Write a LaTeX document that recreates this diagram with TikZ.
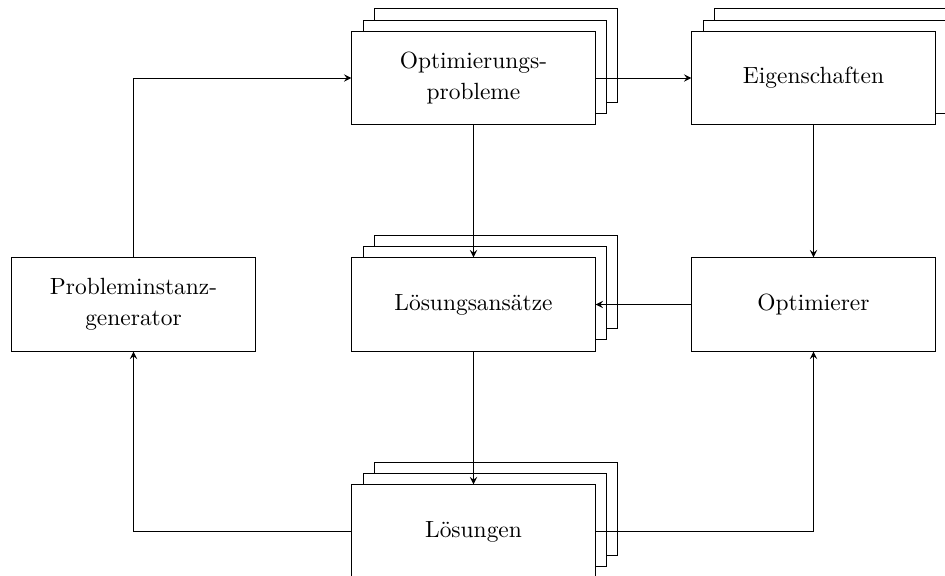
\documentclass[tikz,border=0pt]{standalone}
\usetikzlibrary{shadows}

\newlength\Versatz
\setlength\Versatz{0.17cm}

\tikzset{
  kasten/.style={draw, fill=white, minimum width=3.65cm, minimum height=1.4cm, align=center},
  stapel/.style={kasten, double copy shadow={shadow xshift=\Versatz, shadow yshift=\Versatz}}
}

\begin{document}
\begin{tikzpicture}[>=stealth]
            \useasboundingbox (0,0) rectangle (14.175,-8.64);
            \node[stapel] (opt)  at (7.1025,-1.17)   {Optimierungs-\\[1pt]probleme};
            \node[stapel] (eig)  at (12.2025,-1.17)  {Eigenschaften};
            \node[kasten] (gen)  at (2.0025,-4.5675) {Probleminstanz-\\[1pt]generator};
            \node[stapel] (ans)  at (7.1025,-4.5675) {Lösungsansätze};
            \node[kasten] (optr) at (12.2025,-4.5675) {Optimierer};
            \node[stapel] (loe)  at (7.1025,-7.9725) {Lösungen};
            \draw[->]
              (gen) |- (opt);
            \draw[->] (opt) -- (eig);
            \draw[->] (opt) -- (ans);
            \draw[->] (eig) -- (optr);
            \draw[->] (optr) -- (ans);
            \draw[->] (ans) -- (loe);
            \draw[->] (loe) -| (gen);
            \draw[->] (loe) -| (optr);
            \end{tikzpicture}
\end{document}
